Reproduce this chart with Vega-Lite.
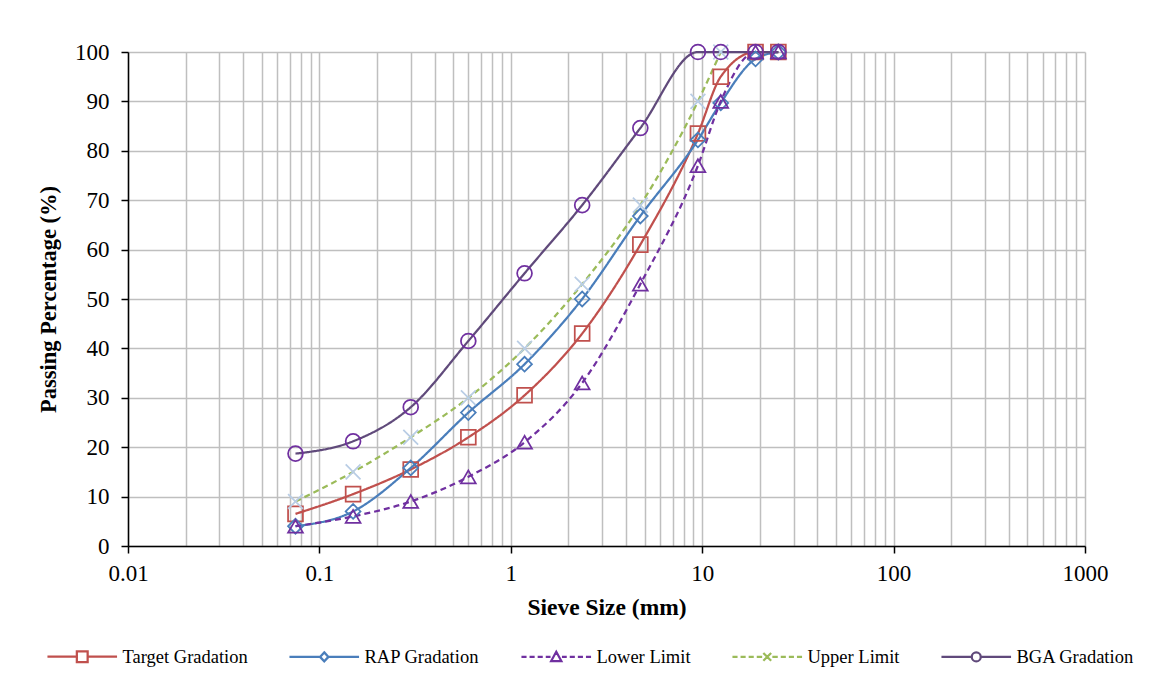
{
  "$schema": "https://vega.github.io/schema/vega-lite/v6.json",
  "width": 957,
  "height": 494,
  "autosize": {"type": "none"},
  "padding": {"left": 128, "top": 52, "right": 65, "bottom": 130},
  "background": "white",
  "config": {
    "view": {"stroke": null},
    "font": "Liberation Serif",
    "axis": {"labelFont": "Liberation Serif", "titleFont": "Liberation Serif", "labelColor": "black", "titleColor": "black"}
  },
  "data": {
    "values": [
      {"sieve": 0.075, "passing": 6.5, "series": "Target Gradation"},
      {"sieve": 0.15, "passing": 10.5, "series": "Target Gradation"},
      {"sieve": 0.3, "passing": 15.5, "series": "Target Gradation"},
      {"sieve": 0.6, "passing": 22, "series": "Target Gradation"},
      {"sieve": 1.18, "passing": 30.5, "series": "Target Gradation"},
      {"sieve": 2.36, "passing": 43, "series": "Target Gradation"},
      {"sieve": 4.75, "passing": 61, "series": "Target Gradation"},
      {"sieve": 9.5, "passing": 83.5, "series": "Target Gradation"},
      {"sieve": 12.5, "passing": 95, "series": "Target Gradation"},
      {"sieve": 19, "passing": 100, "series": "Target Gradation"},
      {"sieve": 25, "passing": 100, "series": "Target Gradation"},
      {"sieve": 0.075, "passing": 4, "series": "RAP Gradation"},
      {"sieve": 0.15, "passing": 7, "series": "RAP Gradation"},
      {"sieve": 0.3, "passing": 15.8, "series": "RAP Gradation"},
      {"sieve": 0.6, "passing": 27, "series": "RAP Gradation"},
      {"sieve": 1.18, "passing": 36.8, "series": "RAP Gradation"},
      {"sieve": 2.36, "passing": 50, "series": "RAP Gradation"},
      {"sieve": 4.75, "passing": 66.8, "series": "RAP Gradation"},
      {"sieve": 9.5, "passing": 82.2, "series": "RAP Gradation"},
      {"sieve": 12.5, "passing": 89.7, "series": "RAP Gradation"},
      {"sieve": 19, "passing": 98.6, "series": "RAP Gradation"},
      {"sieve": 25, "passing": 100, "series": "RAP Gradation"},
      {"sieve": 0.075, "passing": 4, "series": "Lower Limit"},
      {"sieve": 0.15, "passing": 6, "series": "Lower Limit"},
      {"sieve": 0.3, "passing": 9, "series": "Lower Limit"},
      {"sieve": 0.6, "passing": 14, "series": "Lower Limit"},
      {"sieve": 1.18, "passing": 21, "series": "Lower Limit"},
      {"sieve": 2.36, "passing": 33, "series": "Lower Limit"},
      {"sieve": 4.75, "passing": 53, "series": "Lower Limit"},
      {"sieve": 9.5, "passing": 77, "series": "Lower Limit"},
      {"sieve": 12.5, "passing": 90, "series": "Lower Limit"},
      {"sieve": 19, "passing": 100, "series": "Lower Limit"},
      {"sieve": 25, "passing": 100, "series": "Lower Limit"},
      {"sieve": 0.075, "passing": 9, "series": "Upper Limit"},
      {"sieve": 0.15, "passing": 15, "series": "Upper Limit"},
      {"sieve": 0.3, "passing": 22, "series": "Upper Limit"},
      {"sieve": 0.6, "passing": 30, "series": "Upper Limit"},
      {"sieve": 1.18, "passing": 40, "series": "Upper Limit"},
      {"sieve": 2.36, "passing": 53, "series": "Upper Limit"},
      {"sieve": 4.75, "passing": 69, "series": "Upper Limit"},
      {"sieve": 9.5, "passing": 90, "series": "Upper Limit"},
      {"sieve": 12.5, "passing": 100, "series": "Upper Limit"},
      {"sieve": 0.075, "passing": 18.7, "series": "BGA Gradation"},
      {"sieve": 0.15, "passing": 21.2, "series": "BGA Gradation"},
      {"sieve": 0.3, "passing": 28.1, "series": "BGA Gradation"},
      {"sieve": 0.6, "passing": 41.5, "series": "BGA Gradation"},
      {"sieve": 1.18, "passing": 55.2, "series": "BGA Gradation"},
      {"sieve": 2.36, "passing": 69, "series": "BGA Gradation"},
      {"sieve": 4.75, "passing": 84.6, "series": "BGA Gradation"},
      {"sieve": 9.5, "passing": 100, "series": "BGA Gradation"},
      {"sieve": 12.5, "passing": 100, "series": "BGA Gradation"},
      {"sieve": 19, "passing": 100, "series": "BGA Gradation"},
      {"sieve": 25, "passing": 100, "series": "BGA Gradation"}
    ]
  },
  "encoding": {
    "x": {
      "field": "sieve",
      "type": "quantitative",
      "scale": {"type": "log", "domain": [0.01, 1000], "nice": false},
      "axis": {
        "title": "Sieve Size (mm)",
        "titleFontSize": 23.5,
        "titleFontWeight": "bold",
        "titlePadding": 10,
        "labelFontSize": 23,
        "labelPadding": 9,
        "labelFlush": false,
        "labelOverlap": false,
        "format": "~g",
        "values": [0.01,0.02,0.03,0.04,0.05,0.06,0.07,0.08,0.09,0.1,0.2,0.3,0.4,0.5,0.6,0.7,0.8,0.9,1,2,3,4,5,6,7,8,9,10,20,30,40,50,60,70,80,90,100,200,300,400,500,600,700,800,900,1000],
        "labelExpr": "abs(log(datum.value)/LN10 - round(log(datum.value)/LN10)) < 1e-6 ? datum.label : ''",
        "tickOpacity": {"condition": {"test": "abs(log(datum.value)/LN10 - round(log(datum.value)/LN10)) < 1e-6", "value": 1}, "value": 0},
        "tickColor": "black",
        "tickSize": 7,
        "tickWidth": 1.5,
        "domainColor": "black",
        "domainWidth": 1.5,
        "grid": true,
        "gridColor": "#BFBFBF",
        "gridWidth": 1.5
      }
    },
    "y": {
      "field": "passing",
      "type": "quantitative",
      "scale": {"domain": [0, 100], "nice": false},
      "axis": {
        "title": "Passing Percentage (%)",
        "titleFontSize": 22.5,
        "titleFontWeight": "bold",
        "titlePadding": 14,
        "labelFontSize": 23,
        "labelPadding": 12,
        "values": [0,10,20,30,40,50,60,70,80,90,100],
        "tickColor": "black",
        "tickSize": 7,
        "tickWidth": 1.5,
        "domainColor": "black",
        "domainWidth": 1.5,
        "grid": true,
        "gridColor": "#BFBFBF",
        "gridWidth": 1.5
      }
    }
  },
  "layer": [
    {
      "mark": {"type": "line", "interpolate": "monotone", "strokeWidth": 2.25},
      "encoding": {
        "color": {
          "field": "series",
          "type": "nominal",
          "scale": {
            "domain": ["Target Gradation", "RAP Gradation", "Lower Limit", "Upper Limit", "BGA Gradation"],
            "range": ["#C0504D", "#4A7EBB", "#7030A0", "#9BBB59", "#604A7B"]
          },
          "legend": {
            "title": null,
            "orient": "none",
            "legendX": -55,
            "legendY": 595,
            "direction": "horizontal",
            "columns": 5,
            "columnPadding": 36,
            "labelFont": "Liberation Serif",
            "labelFontSize": 18.5,
            "labelColor": "black",
            "labelOffset": 31,
            "symbolSize": 144,
            "symbolStrokeWidth": 2.25,
            "encoding": {
              "symbols": {
                "fill": {"value": "transparent"},
                "shape": {
                  "condition": [
                    {"test": "datum.value == 'Target Gradation'", "value": "M-5.8,0H-0.9M0.9,0H5.8M-0.9,-0.9H0.9V0.9H-0.9Z"},
                    {"test": "datum.value == 'RAP Gradation'", "value": "M-5.8,0H-0.7M0.7,0H5.8M0,-0.75L0.7,0L0,0.75L-0.7,0Z"},
                    {"test": "datum.value == 'Lower Limit'", "value": "M-5.8,0H-4.95M-4.45,0H-3.6M-3.1,0H-2.25M-1.75,0H-0.95M0.95,0H1.75M2.25,0H3.1M3.6,0H4.45M4.95,0H5.8M0,-0.85L0.85,0.7H-0.85Z"},
                    {"test": "datum.value == 'Upper Limit'", "value": "M-5.8,0H-4.95M-4.45,0H-3.6M-3.1,0H-2.25M-1.75,0H-0.85M0.85,0H1.75M2.25,0H3.1M3.6,0H4.45M4.95,0H5.8M-0.65,-0.65L0.65,0.65M-0.65,0.65L0.65,-0.65"}
                  ],
                  "value": "M-5.8,0H-0.75M0.75,0H5.8M-0.75,0A0.75,0.75 0 1,0 0.75,0A0.75,0.75 0 1,0 -0.75,0Z"
                }
              }
            }
          }
        },
        "strokeDash": {
          "condition": {"test": "datum.series == 'Lower Limit' || datum.series == 'Upper Limit'", "value": [6, 4]},
          "value": [1, 0]
        }
      }
    },
    {
      "mark": {"type": "point", "filled": false, "strokeWidth": 1.75, "opacity": 1, "size": 220},
      "encoding": {
        "stroke": {
          "condition": [
            {"test": "datum.series == 'Target Gradation'", "value": "#C0504D"},
            {"test": "datum.series == 'RAP Gradation'", "value": "#4A7EBB"},
            {"test": "datum.series == 'Upper Limit'", "value": "#B9CDE5"}
          ],
          "value": "#7030A0"
        },
        "shape": {
          "condition": [
            {"test": "datum.series == 'Target Gradation'", "value": "square"},
            {"test": "datum.series == 'RAP Gradation'", "value": "diamond"},
            {"test": "datum.series == 'Lower Limit'", "value": "triangle-up"},
            {"test": "datum.series == 'Upper Limit'", "value": "M-1,-1L1,1M-1,1L1,-1"}
          ],
          "value": "circle"
        }
      }
    }
  ]
}
